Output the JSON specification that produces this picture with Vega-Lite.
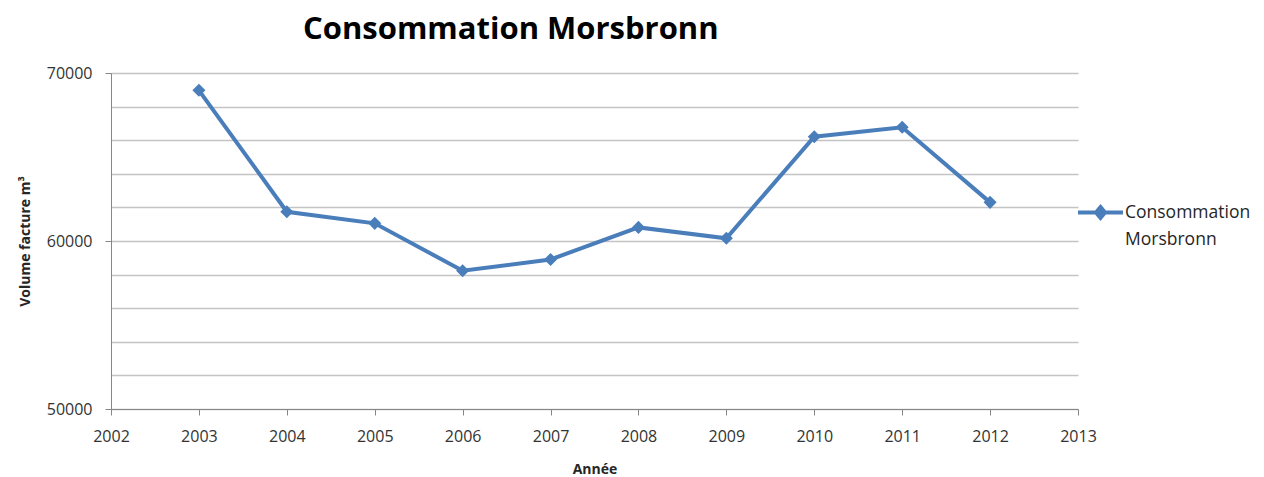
{
  "$schema": "https://vega.github.io/schema/vega-lite/v6.json",
  "width": 967,
  "height": 336,
  "autosize": {"type": "none"},
  "padding": {"left": 111, "top": 73, "right": 186, "bottom": 68},
  "background": "white",
  "title": {
    "text": "Consommation Morsbronn",
    "anchor": "start",
    "frame": "group",
    "dx": 192,
    "offset": 19,
    "font": "Open Sans",
    "fontSize": 31,
    "fontWeight": "bold",
    "color": "#000000"
  },
  "data": {
    "values": [
      {"annee": 2003, "volume": 68970, "serie": "Consommation Morsbronn"},
      {"annee": 2004, "volume": 61740, "serie": "Consommation Morsbronn"},
      {"annee": 2005, "volume": 61050, "serie": "Consommation Morsbronn"},
      {"annee": 2006, "volume": 58230, "serie": "Consommation Morsbronn"},
      {"annee": 2007, "volume": 58900, "serie": "Consommation Morsbronn"},
      {"annee": 2008, "volume": 60810, "serie": "Consommation Morsbronn"},
      {"annee": 2009, "volume": 60160, "serie": "Consommation Morsbronn"},
      {"annee": 2010, "volume": 66210, "serie": "Consommation Morsbronn"},
      {"annee": 2011, "volume": 66770, "serie": "Consommation Morsbronn"},
      {"annee": 2012, "volume": 62300, "serie": "Consommation Morsbronn"}
    ]
  },
  "encoding": {
    "x": {
      "field": "annee",
      "type": "quantitative",
      "scale": {"domain": [2002, 2013], "nice": false, "zero": false},
      "axis": {
        "title": "Année",
        "values": [2002, 2003, 2004, 2005, 2006, 2007, 2008, 2009, 2010, 2011, 2012, 2013],
        "format": "d",
        "grid": false,
        "labelFlush": false,
        "domainColor": "#868686",
        "tickColor": "#868686",
        "tickSize": 6,
        "labelFont": "Open Sans",
        "labelFontSize": 16,
        "labelColor": "#333333",
        "labelPadding": 13,
        "titleFont": "Open Sans",
        "titleFontSize": 14,
        "titleFontWeight": "bold",
        "titleColor": "#262626",
        "titlePadding": 18
      }
    },
    "y": {
      "field": "volume",
      "type": "quantitative",
      "scale": {"domain": [50000, 70000], "nice": false, "zero": false},
      "axis": {
        "title": "Volume facture m³",
        "values": [50000, 52000, 54000, 56000, 58000, 60000, 62000, 64000, 66000, 68000, 70000],
        "labelExpr": "datum.value % 10000 === 0 ? datum.value : ''",
        "format": "d",
        "grid": true,
        "gridColor": "#c4c4c4",
        "gridWidth": 1.3,
        "domainColor": "#868686",
        "tickColor": "#868686",
        "tickOpacity": {"condition": {"test": "datum.value % 10000 === 0", "value": 1}, "value": 0},
        "tickSize": 6,
        "labelFont": "Open Sans",
        "labelFontSize": 16,
        "labelColor": "#333333",
        "labelPadding": 13,
        "labelFlush": false,
        "titleFont": "Open Sans",
        "titleFontSize": 14,
        "titleFontWeight": "bold",
        "titleColor": "#262626",
        "titlePadding": 14
      }
    },
    "color": {
      "field": "serie",
      "type": "nominal",
      "scale": {"range": ["#4a7ebb"]},
      "legend": {
        "title": null,
        "orient": "none",
        "legendX": 965,
        "legendY": 115,
        "symbolType": "M-1,0L1,0M0,-0.24L0.2,0L0,0.24L-0.2,0Z",
        "symbolSize": 2025,
        "symbolStrokeWidth": 4,
        "symbolStrokeColor": "#4a7ebb",
        "symbolFillColor": "#4a7ebb",
        "symbolOpacity": 1,
        "labelExpr": "['Consommation', 'Morsbronn']",
        "labelFont": "Open Sans",
        "labelFontSize": 17.5,
        "labelColor": "#262626",
        "labelBaseline": "middle",
        "labelOffset": 0,
        "labelLimit": 300
      }
    }
  },
  "layer": [
    {"mark": {"type": "line", "strokeWidth": 4}},
    {"mark": {"type": "point", "shape": "diamond", "filled": true, "size": 170, "opacity": 1}}
  ],
  "config": {
    "view": {"stroke": null},
    "style": {"guide-label": {"lineHeight": 27}}
  }
}
